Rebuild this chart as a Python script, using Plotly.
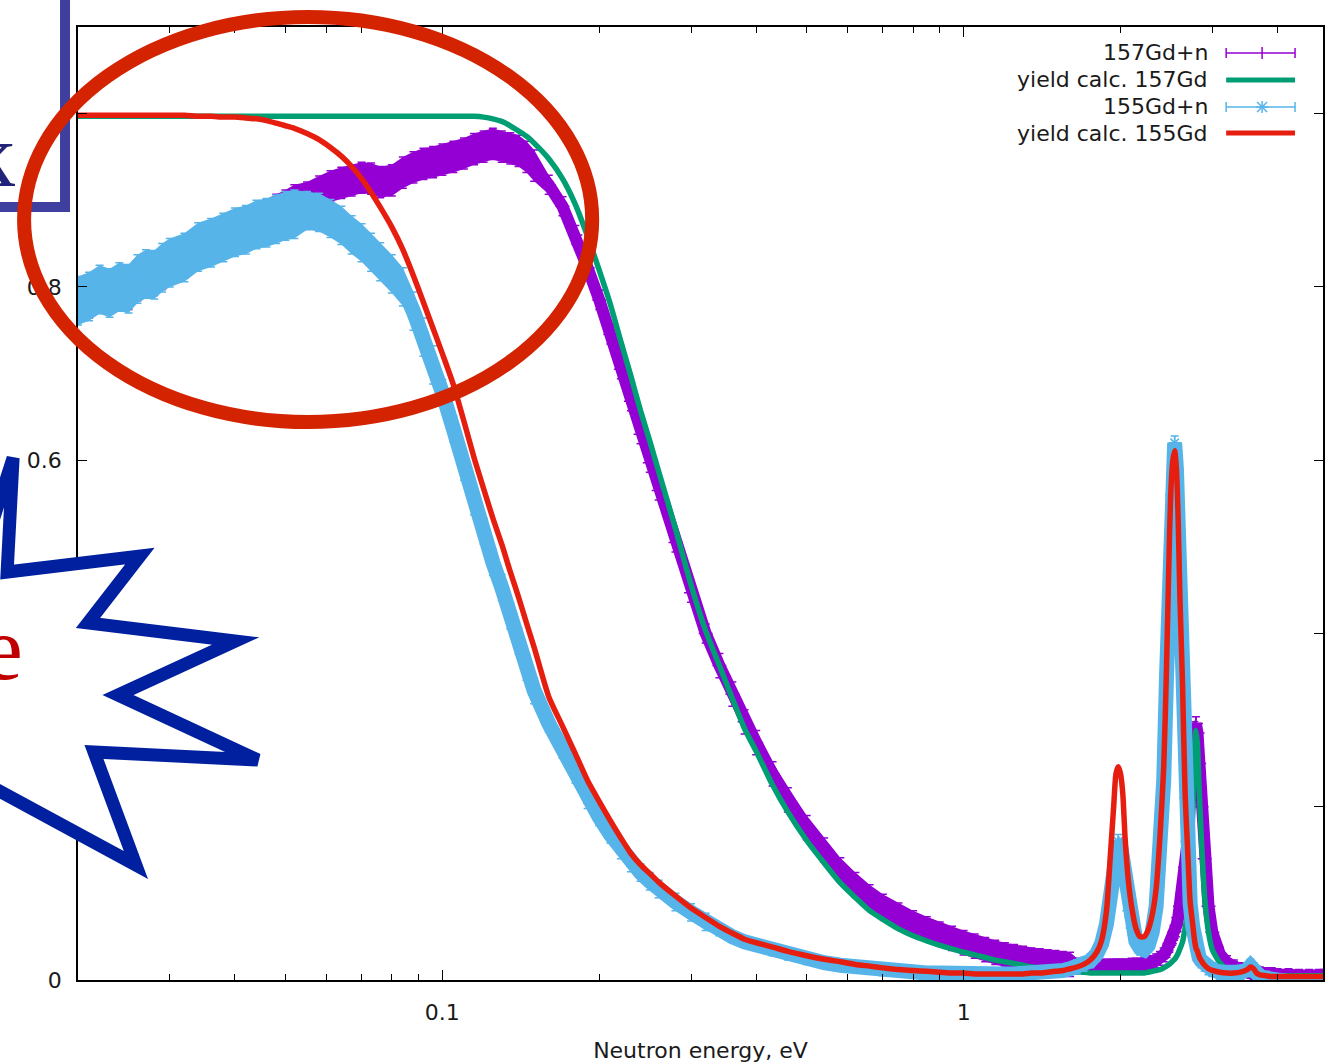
import math
import plotly.graph_objects as go

# ---------------- data ----------------
energy = [
    0.020, 0.021, 0.022, 0.023, 0.024, 0.025, 0.026, 0.027, 0.028, 0.029,
    0.030, 0.032, 0.034, 0.036, 0.038, 0.040, 0.042, 0.044, 0.046, 0.048,
    0.050, 0.052, 0.055, 0.058, 0.061, 0.064, 0.067, 0.070, 0.073, 0.076,
    0.080, 0.084, 0.088, 0.092, 0.096, 0.100, 0.105, 0.110, 0.115, 0.120,
    0.125, 0.130, 0.135, 0.140, 0.145, 0.150, 0.160, 0.170, 0.180, 0.190,
    0.200, 0.210, 0.220, 0.230, 0.240, 0.250, 0.260, 0.280, 0.300, 0.320,
    0.340, 0.360, 0.380, 0.400, 0.430, 0.460, 0.500, 0.540, 0.580, 0.620,
    0.660, 0.700, 0.750, 0.800, 0.850, 0.900, 0.950, 1.00, 1.05, 1.10,
    1.15, 1.20, 1.25, 1.30, 1.35, 1.40, 1.45, 1.50, 1.55, 1.60,
    1.65, 1.70, 1.75, 1.80, 1.84, 1.88, 1.91, 1.94, 1.96, 1.98,
    2.00, 2.02, 2.04, 2.07, 2.10, 2.14, 2.18, 2.22, 2.26, 2.30,
    2.34, 2.38, 2.42, 2.45, 2.48, 2.50, 2.52, 2.54, 2.56, 2.58,
    2.60, 2.63, 2.66, 2.69, 2.72, 2.75, 2.77, 2.79, 2.81, 2.83,
    2.86, 2.90, 2.95, 3.00, 3.10, 3.20, 3.30, 3.40, 3.50, 3.55,
    3.60, 3.65, 3.70, 3.80, 3.90, 4.00, 4.20, 4.40, 4.60, 4.80, 4.90,
]

y157_meas = [
    0.782, 0.786, 0.792, 0.791, 0.797, 0.796, 0.806, 0.811, 0.812, 0.819,
    0.825, 0.832, 0.843, 0.849, 0.856, 0.862, 0.868, 0.874, 0.879, 0.885,
    0.890, 0.896, 0.903, 0.910, 0.916, 0.920, 0.923, 0.926, 0.925, 0.921,
    0.923, 0.932, 0.938, 0.942, 0.944, 0.947, 0.950, 0.954, 0.959, 0.962,
    0.965, 0.962, 0.960, 0.957, 0.950, 0.940, 0.918, 0.893, 0.860, 0.822,
    0.785, 0.745, 0.705, 0.668, 0.630, 0.597, 0.565, 0.505, 0.447, 0.400,
    0.363, 0.330, 0.298, 0.274, 0.238, 0.208, 0.176, 0.150, 0.127, 0.110,
    0.096, 0.085, 0.075, 0.066, 0.059, 0.053, 0.048, 0.043, 0.039, 0.035,
    0.032, 0.029, 0.027, 0.025, 0.023, 0.022, 0.021, 0.020, 0.019, 0.018,
    0.017, 0.017, 0.016, 0.016, 0.016, 0.016, 0.016, 0.016, 0.016, 0.016,
    0.016, 0.016, 0.016, 0.016, 0.017, 0.017, 0.017, 0.018, 0.019, 0.020,
    0.022, 0.025, 0.029, 0.034, 0.040, 0.046, 0.050, 0.056, 0.063, 0.072,
    0.085, 0.100, 0.130, 0.160, 0.215, 0.260, 0.290, 0.296, 0.285, 0.250,
    0.200, 0.140, 0.085, 0.055, 0.030, 0.020, 0.015, 0.012, 0.011, 0.010,
    0.009, 0.008, 0.007, 0.006, 0.006, 0.005, 0.005, 0.004, 0.004, 0.004, 0.004,
]
err157 = [0.022] * 22 + [0.018] * 24 + [0.011] * 14 + [0.014] * 30 + [0.008] * 61

y157_calc = [
    0.997, 0.997, 0.997, 0.997, 0.997, 0.997, 0.997, 0.997, 0.997, 0.997,
    0.997, 0.997, 0.997, 0.997, 0.997, 0.997, 0.997, 0.997, 0.997, 0.997,
    0.997, 0.997, 0.997, 0.997, 0.997, 0.997, 0.997, 0.997, 0.997, 0.997,
    0.997, 0.997, 0.997, 0.997, 0.997, 0.997, 0.997, 0.997, 0.997, 0.996,
    0.994, 0.991, 0.986, 0.980, 0.974, 0.966, 0.948, 0.925, 0.895, 0.858,
    0.819, 0.780, 0.737, 0.697, 0.657, 0.622, 0.587, 0.521, 0.456, 0.403,
    0.363, 0.325, 0.290, 0.264, 0.225, 0.194, 0.161, 0.135, 0.112, 0.095,
    0.080, 0.070, 0.059, 0.051, 0.045, 0.040, 0.036, 0.032, 0.029, 0.026,
    0.023, 0.021, 0.019, 0.017, 0.015, 0.014, 0.013, 0.012, 0.011, 0.010,
    0.009, 0.009, 0.008, 0.008, 0.008, 0.008, 0.008, 0.008, 0.008, 0.008,
    0.008, 0.008, 0.008, 0.008, 0.008, 0.008, 0.008, 0.008, 0.009, 0.010,
    0.011, 0.012, 0.014, 0.016, 0.018, 0.020, 0.022, 0.024, 0.027, 0.031,
    0.036, 0.044, 0.060, 0.080, 0.130, 0.190, 0.260, 0.288, 0.270, 0.220,
    0.160, 0.095, 0.055, 0.035, 0.020, 0.013, 0.010, 0.008, 0.007, 0.006,
    0.006, 0.006, 0.006, 0.005, 0.005, 0.005, 0.005, 0.005, 0.005, 0.005, 0.005,
]

y155_meas = [
    0.784, 0.789, 0.797, 0.793, 0.800, 0.798, 0.809, 0.815, 0.814, 0.822,
    0.828, 0.834, 0.846, 0.851, 0.857, 0.863, 0.866, 0.872, 0.874, 0.878,
    0.882, 0.884, 0.888, 0.886, 0.879, 0.871, 0.860, 0.851, 0.840, 0.829,
    0.815, 0.800, 0.772, 0.742, 0.710, 0.678, 0.636, 0.592, 0.552, 0.518,
    0.482, 0.453, 0.420, 0.391, 0.361, 0.334, 0.296, 0.266, 0.237, 0.208,
    0.188, 0.168, 0.150, 0.135, 0.124, 0.114, 0.105, 0.090, 0.078, 0.067,
    0.057, 0.050, 0.044, 0.040, 0.034, 0.029, 0.024, 0.020, 0.017, 0.015,
    0.013, 0.011, 0.010, 0.009, 0.008, 0.008, 0.007, 0.007, 0.007, 0.007,
    0.007, 0.007, 0.007, 0.007, 0.008, 0.008, 0.009, 0.010, 0.011, 0.013,
    0.015, 0.018, 0.022, 0.030, 0.042, 0.065, 0.095, 0.125, 0.150, 0.160,
    0.155, 0.140, 0.110, 0.080, 0.060, 0.045, 0.037, 0.035, 0.040, 0.055,
    0.085, 0.140, 0.230, 0.350, 0.480, 0.560, 0.600, 0.620, 0.590, 0.520,
    0.430, 0.330, 0.210, 0.145, 0.088, 0.062, 0.046, 0.036, 0.031, 0.026,
    0.022, 0.018, 0.014, 0.012, 0.009, 0.008, 0.007, 0.009, 0.012, 0.016,
    0.012, 0.007, 0.004, 0.002, 0.000, -0.001, -0.002, -0.002, -0.002, -0.002, -0.002,
]
err155 = [0.028] * 22 + [0.022] * 13 + [0.015] * 11 + [0.010] * 14 + [0.006] * 30 + [0.008] * 61

y155_calc = [
    0.998, 0.998, 0.998, 0.998, 0.998, 0.998, 0.998, 0.998, 0.998, 0.998,
    0.998, 0.998, 0.997, 0.997, 0.996, 0.996, 0.995, 0.994, 0.992, 0.989,
    0.986, 0.983, 0.977, 0.970, 0.961, 0.951, 0.939, 0.925, 0.909, 0.892,
    0.869, 0.843, 0.813, 0.782, 0.752, 0.723, 0.687, 0.645, 0.603, 0.567,
    0.533, 0.503, 0.471, 0.442, 0.412, 0.384, 0.327, 0.293, 0.261, 0.230,
    0.206, 0.184, 0.164, 0.146, 0.133, 0.123, 0.113, 0.097, 0.083, 0.072,
    0.062, 0.054, 0.047, 0.043, 0.038, 0.033, 0.028, 0.024, 0.021, 0.018,
    0.016, 0.014, 0.012, 0.011, 0.010, 0.009, 0.008, 0.008, 0.007, 0.007,
    0.007, 0.007, 0.007, 0.007, 0.008, 0.008, 0.009, 0.010, 0.011, 0.013,
    0.015, 0.018, 0.023, 0.032, 0.046, 0.080, 0.140, 0.200, 0.238, 0.246,
    0.238, 0.215, 0.165, 0.115, 0.085, 0.060, 0.050, 0.050, 0.058, 0.075,
    0.105, 0.165, 0.245, 0.360, 0.500, 0.570, 0.600, 0.611, 0.590, 0.530,
    0.440, 0.340, 0.215, 0.150, 0.090, 0.065, 0.048, 0.037, 0.033, 0.027,
    0.022, 0.017, 0.013, 0.011, 0.009, 0.008, 0.008, 0.009, 0.012, 0.015,
    0.013, 0.008, 0.006, 0.005, 0.004, 0.004, 0.004, 0.004, 0.004, 0.004, 0.004,
]

series_names = ["157Gd+n", "yield calc. 157Gd", "155Gd+n", "yield calc. 155Gd"]
series_colors = ["#9400D3", "#009E73", "#56B4E9", "#E51E10"]

x_tick_vals = [0.1, 1]
x_tick_text = ["0.1", "1"]
x_minor_vals = [0.02, 0.03, 0.04, 0.05, 0.06, 0.07, 0.08, 0.09,
                0.2, 0.3, 0.4, 0.5, 0.6, 0.7, 0.8, 0.9, 2, 3, 4]
y_tick_vals = [0, 0.2, 0.4, 0.6, 0.8, 1.0]
y_tick_text = ["0", "0.2", "0.4", "0.6", "0.8", "1"]
x_title = "Neutron energy, eV"
note_e = "e"
note_k = "k"

for arr in (y157_meas, err157, y157_calc, y155_meas, err155, y155_calc):
    assert len(arr) == len(energy), len(arr)

FONT = "DejaVu Sans"
SERIF = "Liberation Serif, Times New Roman, DejaVu Serif, serif"
TXT = "#1a1a1a"

fig = go.Figure()


def add_measured(y, err, color, symbol, lw):
    up = [a + b for a, b in zip(y, err)]
    lo = [a - b for a, b in zip(y, err)]
    fig.add_trace(go.Scatter(x=energy + energy[::-1], y=up + lo[::-1], mode="lines",
                             fill="toself", fillcolor=color, line=dict(width=0),
                             hoverinfo="skip", showlegend=False))
    fig.add_trace(go.Scatter(x=energy, y=y, mode="lines", line=dict(color=color, width=lw),
                             showlegend=False, hoverinfo="skip"))
    fig.add_trace(go.Scatter(x=energy, y=y, mode="markers",
                             marker=dict(symbol=symbol, size=10, color=color,
                                         line=dict(color=color, width=1.5)),
                             error_y=dict(type="data", array=err, color=color, thickness=1.5, width=4),
                             showlegend=False))


add_measured(y157_meas, err157, series_colors[0], "cross-thin-open", 12)
fig.add_trace(go.Scatter(x=energy, y=y157_calc, mode="lines",
                         line=dict(color=series_colors[1], width=5.5, shape="spline", smoothing=0.6),
                         showlegend=False))
add_measured(y155_meas, err155, series_colors[2], "asterisk-open", 15)
fig.add_trace(go.Scatter(x=energy, y=y155_calc, mode="lines",
                         line=dict(color=series_colors[3], width=5.5, shape="spline", smoothing=0.6),
                         showlegend=False))

# ---------------- layout geometry ----------------
W, H = 1325, 1064
L, R, T, B = 78, 0, 27, 84
pw, ph = W - L - R, H - T - B


def px(xp):
    return (xp - L) / pw


def py(yp):
    return (H - B - yp) / ph


shapes = []
annotations = []

# manual gnuplot-style key
rows = [53, 80, 107, 133]
sx0, sx1, smid = 1228, 1297, 1264
for i, (name, col) in enumerate(zip(series_names, series_colors)):
    yy = py(rows[i])
    annotations.append(dict(x=px(1212), y=yy, xref="paper", yref="paper", text=name,
                            showarrow=False, xanchor="right", yanchor="middle",
                            font=dict(family=FONT, size=22, color=TXT)))
    thick = i in (1, 3)
    shapes.append(dict(type="line", xref="paper", yref="paper", x0=px(sx0), x1=px(sx1),
                       y0=yy, y1=yy, line=dict(color=col, width=5 if thick else 1.5)))
    if not thick:
        for cx in (sx0, sx1):
            shapes.append(dict(type="line", xref="paper", yref="paper", x0=px(cx), x1=px(cx),
                               y0=py(rows[i] - 5), y1=py(rows[i] + 5), line=dict(color=col, width=1.5)))
        if i == 0:
            shapes.append(dict(type="line", xref="paper", yref="paper", x0=px(smid), x1=px(smid),
                               y0=py(rows[i] - 6), y1=py(rows[i] + 6), line=dict(color=col, width=1.5)))
        else:
            for dx, dy in ((6, 0), (0, 6), (5, 5), (5, -5)):
                shapes.append(dict(type="line", xref="paper", yref="paper",
                                   x0=px(smid - dx), x1=px(smid + dx),
                                   y0=py(rows[i] - dy), y1=py(rows[i] + dy),
                                   line=dict(color=col, width=1.5)))

# overlay drawings (slide annotations)
shapes.append(dict(type="rect", xref="paper", yref="paper", layer="above",
                   x0=px(-60), x1=px(65), y0=py(207), y1=py(-60),
                   line=dict(color="#3F3F9F", width=10), fillcolor="white"))
star = [(-20, 560), (13, 458), (7, 572), (140, 556), (88, 623), (236, 641), (118, 695),
        (258, 760), (94, 752), (136, 865), (-25, 778), (-200, 850), (-200, 500)]
path = "M " + " L ".join(f"{px(a):.5f},{py(b):.5f}" for a, b in star) + " Z"
shapes.append(dict(type="path", xref="paper", yref="paper", layer="above", path=path,
                   line=dict(color="#0020A0", width=13), fillcolor="white"))
shapes.append(dict(type="circle", xref="paper", yref="paper", layer="above",
                   x0=px(24), x1=px(593), y0=py(422), y1=py(17),
                   line=dict(color="#D42300", width=14)))

annotations.append(dict(x=px(25), y=py(648), xref="paper", yref="paper", text=note_e,
                        showarrow=False, xanchor="right", yanchor="middle",
                        font=dict(family=SERIF, size=92, color="#C00000")))
annotations.append(dict(x=px(17), y=py(155), xref="paper", yref="paper", text=note_k,
                        showarrow=False, xanchor="right", yanchor="middle",
                        font=dict(family=SERIF, size=92, color="#23237A")))

fig.update_layout(
    width=W, height=H,
    margin=dict(l=L, r=R, t=T, b=B, pad=0),
    paper_bgcolor="white", plot_bgcolor="white",
    font=dict(family=FONT, size=22, color=TXT),
    showlegend=False,
    shapes=shapes, annotations=annotations,
    xaxis=dict(type="log", range=[math.log10(0.02), 0.6894],
               showline=True, linecolor="black", linewidth=1.5, mirror="allticks",
               ticks="inside", ticklen=10, tickwidth=1.2, tickcolor="black",
               tickvals=x_tick_vals, ticktext=x_tick_text, ticklabelstandoff=12,
               minor=dict(tickvals=x_minor_vals, ticks="inside", ticklen=6, tickcolor="black", tickwidth=1.2),
               showgrid=False, zeroline=False,
               title=dict(text=x_title, standoff=18, font=dict(family=FONT, size=22, color=TXT))),
    yaxis=dict(range=[0, 1.1], showline=True, linecolor="black", linewidth=1.5, mirror="allticks",
               ticks="inside", ticklen=9, tickwidth=1.2, tickcolor="black",
               tickvals=y_tick_vals, ticktext=y_tick_text, ticklabelstandoff=10,
               showgrid=False, zeroline=False),
)

fig.write_html(
    "out.html",
    config={"displayModeBar": False},
    post_script="document.body.style.margin='0px';"
                "document.documentElement.style.overflow='hidden';"
                "document.body.style.overflow='hidden';",
)
